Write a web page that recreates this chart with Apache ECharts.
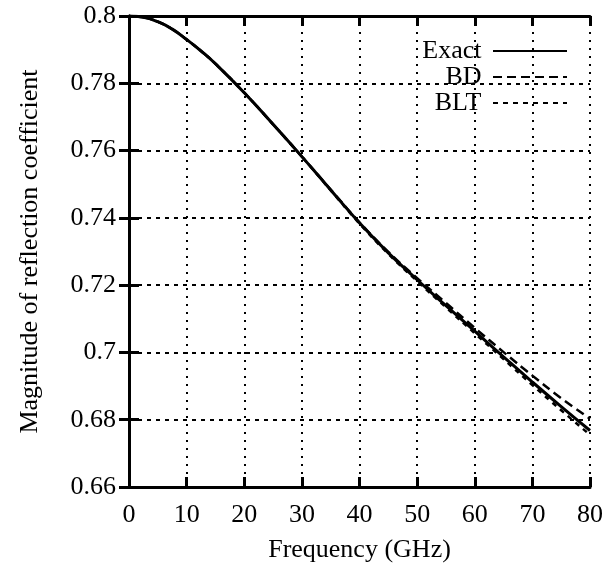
<!DOCTYPE html>
<html>
<head>
<meta charset="utf-8">
<script src="https://cdn.jsdelivr.net/npm/echarts@6/dist/echarts.min.js"></script>
<style>
  html, body { margin: 0; padding: 0; background: #fff; }
  #chart { width: 606px; height: 569px; }
</style>
</head>
<body>
<div id="chart"></div>
<script>
const freq = [0, 2.5, 5, 7.5, 10, 12.5, 15, 20, 25, 30, 35, 40, 45, 50, 55, 60, 65, 70, 75, 80]
const exact = [0.8, 0.7996, 0.7983, 0.7961, 0.793, 0.7896, 0.7858, 0.7772, 0.7678, 0.7582, 0.7483, 0.7385, 0.7296, 0.7216, 0.7139, 0.7063, 0.6987, 0.6912, 0.6839, 0.6768]
const bd = [0.8, 0.7996, 0.7983, 0.7961, 0.793, 0.7896, 0.7858, 0.7772, 0.7678, 0.7582, 0.7484, 0.7387, 0.7299, 0.7221, 0.7147, 0.7073, 0.7001, 0.6931, 0.6864, 0.6803]
const blt = [0.8, 0.7996, 0.7983, 0.7961, 0.793, 0.7896, 0.7858, 0.7772, 0.7678, 0.7582, 0.7482, 0.7383, 0.7293, 0.7212, 0.7134, 0.7057, 0.698, 0.6903, 0.6828, 0.6755]
const seriesNames = ['Exact', 'BD', 'BLT']

const font = 'Liberation Serif'
const pairs = arr => freq.map((f, i) => [f, arr[i]])

const chart = echarts.init(document.getElementById('chart'))

const frameAxis = {
  axisLine: { show: true, lineStyle: { color: '#000', width: 3 } },
  axisTick: { show: true, inside: true, length: 10, lineStyle: { color: '#000', width: 3 } },
  axisLabel: { show: false },
  splitLine: { show: false }
}
const txt = { fontFamily: font, fontSize: 26, color: '#000' }

chart.setOption({
  backgroundColor: '#fff',
  animation: false,
  color: ['#000', '#000', '#000'],
  grid: { left: 129, right: 13, top: 16, bottom: 82 },
  legend: {
    orient: 'vertical',
    right: 33,
    top: 33,
    align: 'right',
    itemWidth: 74,
    itemHeight: 26,
    itemGap: 0,
    itemStyle: { opacity: 0 },
    formatter: name => name + ' ',
    textStyle: txt,
    data: seriesNames
  },
  xAxis: [{
    type: 'value', min: 0, max: 80, interval: 10,
    name: 'Frequency (GHz)', nameLocation: 'middle', nameGap: 50,
    nameTextStyle: txt,
    axisLine: { lineStyle: { color: '#000', width: 3 } },
    axisTick: { inside: true, length: 10, lineStyle: { color: '#000', width: 3 } },
    axisLabel: Object.assign({ margin: 15 }, txt),
    splitLine: { show: true, lineStyle: { color: '#000', width: 2, type: [2, 6] } }
  }, Object.assign({ type: 'value', min: 0, max: 80, interval: 10, position: 'top' }, frameAxis)],
  yAxis: [{
    type: 'value', min: 0.66, max: 0.8, interval: 0.02,
    name: 'Magnitude of reflection coefficient', nameLocation: 'middle', nameGap: 86,
    nameTextStyle: txt,
    axisLine: { lineStyle: { color: '#000', width: 3 } },
    axisTick: { inside: true, length: 10, lineStyle: { color: '#000', width: 3 } },
    axisLabel: Object.assign({ margin: 13 }, txt),
    splitLine: { show: true, lineStyle: { color: '#000', width: 2, type: [4, 5] } }
  }, Object.assign({ type: 'value', min: 0.66, max: 0.8, interval: 0.02, position: 'right' }, frameAxis)],
  series: [
    {
      name: 'Exact', type: 'line', smooth: true, symbol: 'none',
      lineStyle: { color: '#000', width: 3, type: 'solid' },
      data: pairs(exact), z: 5
    },
    {
      name: 'BD', type: 'line', smooth: true, symbol: 'none',
      lineStyle: { color: '#000', width: 2.5, type: [9, 5] },
      data: pairs(bd)
    },
    {
      name: 'BLT', type: 'line', smooth: true, symbol: 'none',
      lineStyle: { color: '#000', width: 2.5, type: [5, 5] },
      data: pairs(blt)
    }
  ]
})
</script>
</body>
</html>
